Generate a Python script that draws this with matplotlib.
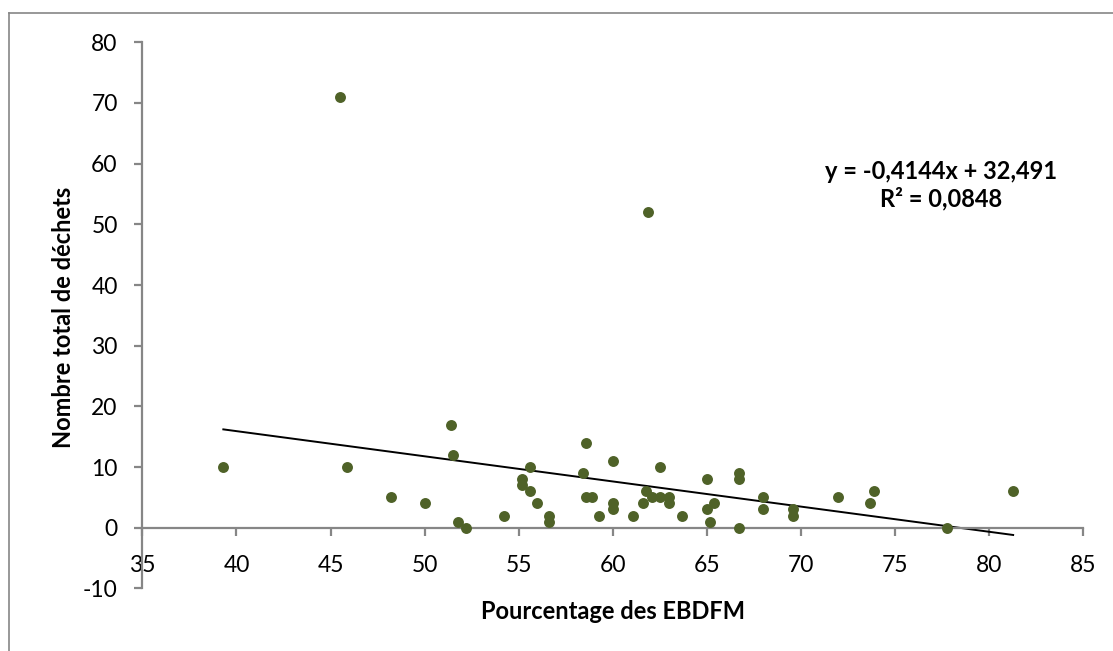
import matplotlib.pyplot as plt
from matplotlib.lines import Line2D

# ------------------- données -------------------
pct_ebdfm = [39.3, 45.5, 45.9, 48.2, 50.0, 51.4, 51.5, 51.8, 52.2, 54.2,
             55.2, 55.2, 55.6, 55.6, 56.0, 56.6, 56.6, 58.4, 58.6, 58.6,
             58.9, 59.3, 60.0, 60.0, 60.0, 61.1, 61.6, 61.8, 61.9, 62.1,
             62.5, 62.5, 63.0, 63.0, 63.7, 65.0, 65.0, 65.2, 65.4, 66.7,
             66.7, 66.7, 68.0, 68.0, 69.6, 69.6, 72.0, 73.7, 73.9, 77.8,
             81.3]
nb_dechets = [10, 71, 10, 5, 4, 17, 12, 1, 0, 2,
              8, 7, 10, 6, 4, 2, 1, 9, 14, 5,
              5, 2, 11, 4, 3, 2, 4, 6, 52, 5,
              10, 5, 5, 4, 2, 8, 3, 1, 4, 9,
              8, 0, 5, 3, 3, 2, 5, 4, 6, 0,
              6]

# droite de tendance (équation affichée sur le graphique)
pente = -0.4144
ordonnee = 32.491
r2 = 0.0848

x_ticks = [35, 40, 45, 50, 55, 60, 65, 70, 75, 80, 85]
y_ticks = [-10, 0, 10, 20, 30, 40, 50, 60, 70, 80]

# ------------------- figure -------------------
plt.rcParams['font.family'] = ['Lato', 'DejaVu Sans']
plt.rcParams['axes.unicode_minus'] = False
gris = '#868686'

fig = plt.figure(figsize=(11.13, 6.51), dpi=100)
ax = fig.add_axes([0.128, 0.0962, 0.8448, 0.8388])

ax.scatter(pct_ebdfm, nb_dechets, s=62, color='#4F6228', zorder=3, linewidths=0)

x_tr = [min(pct_ebdfm), max(pct_ebdfm)]
y_tr = [pente * x + ordonnee for x in x_tr]
ax.plot(x_tr, y_tr, color='black', lw=1.4, zorder=2)

ax.set_xlim(35, 85)
ax.set_ylim(-10, 80)
ax.set_xticks(x_ticks)
ax.set_yticks(y_ticks)

# axes à la manière d'Excel : l'axe des x croise en 0
ax.spines['top'].set_visible(False)
ax.spines['right'].set_visible(False)
ax.spines['bottom'].set_position(('data', 0))
for s in ['left', 'bottom']:
    ax.spines[s].set_color(gris)
    ax.spines[s].set_linewidth(1.6)
ax.tick_params(axis='both', direction='out', length=5.8, width=1.6, color=gris,
               labelsize=16.5, labelcolor='black')
ax.tick_params(axis='x', pad=14)
ax.tick_params(axis='y', pad=12)

ax.set_xlabel('Pourcentage des EBDFM', fontsize=17, fontweight='bold')
ax.set_ylabel('Nombre total de déchets', fontsize=17, fontweight='bold')
ax.xaxis.set_label_coords(0.5, -0.022)
ax.yaxis.set_label_coords(-0.072, 0.496)

eq = f'y = {pente}x + {ordonnee}\nR² = {r2}'.replace('.', ',')
ax.text(0.849, 0.739, eq, transform=ax.transAxes, ha='center', va='center',
        multialignment='center', fontsize=17, fontweight='bold', linespacing=1.2)

# cadre extérieur (bords gauche et haut visibles)
fig.add_artist(Line2D([9 / 1113, 9 / 1113], [0, 1 - 13 / 651], color=gris, lw=1.2))
fig.add_artist(Line2D([9 / 1113, 1], [1 - 13 / 651, 1 - 13 / 651], color=gris, lw=1.2))

fig.savefig('out.png', dpi=100)
